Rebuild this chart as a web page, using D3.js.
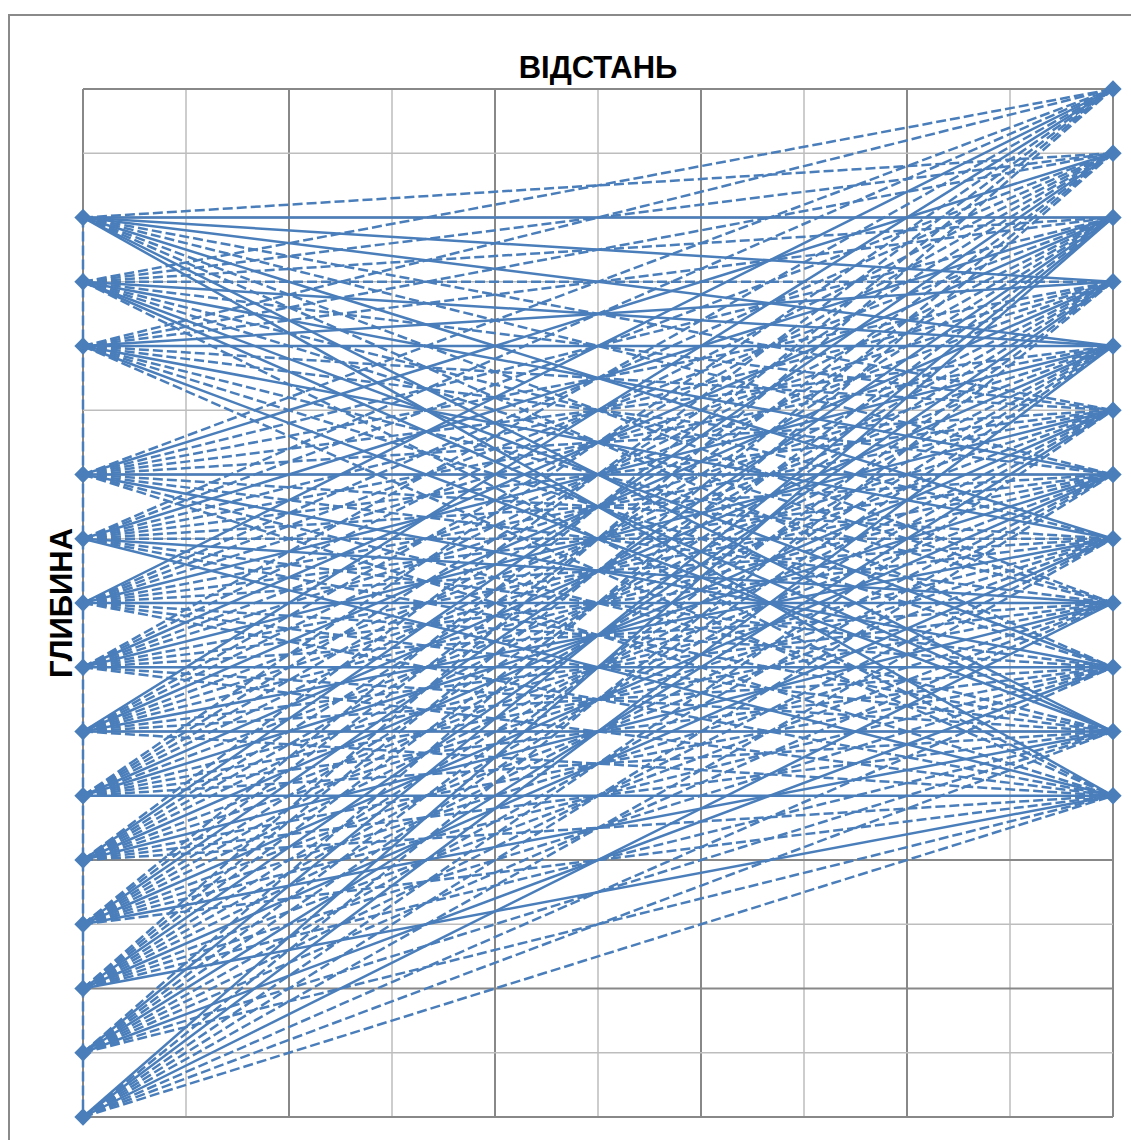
<!DOCTYPE html>
<html>
<head>
<meta charset="utf-8">
<script src="https://cdn.jsdelivr.net/npm/d3@7"></script>
<style>
  body { margin: 0; background: #fff; }
  text { font-family: "Liberation Sans", Arial, sans-serif; }
</style>
</head>
<body>
<div id="chart"></div>
<script>
// depth (grid rows) of sources on the left hole and receivers on the right hole
const sourceDepths = [2, 3, 4, 6, 7, 8, 9, 10, 11, 12, 13, 14, 15, 16];
const receiverDepths = [0, 1, 2, 3, 4, 5, 6, 7, 8, 9, 10, 11];
// one row per source, one char per receiver: S solid ray, D dashed ray, - no ray
const rayStyles = [
  '-DSSSDDSDDSS',
  'DDDDSDSDDSSD',
  'DDDSSDDSDDSD',
  'DSDDDDSDDSDD',
  'DDSDDDDDSDDS',
  'SDDDSDDDSDDD',
  'DDSDDSDDDSDD',
  'SDDSDDDSDDSD',
  'DDDDSDSDDDDS',
  'DSDDDSDDSDDD',
  'DDSDDDSDDDSD',
  'DDDSDDDSDDDS',
  '-DSDDSDDDSDD',
  '--SDSDDDSDDD'
];
const leftHole = 0, rightHole = 10;
const xTitle = 'ВІДСТАНЬ';
const yTitle = 'ГЛИБИНА';

const W = 1131, H = 1140;
const margin = { top: 89, right: 18, bottom: 23, left: 83 };
const color = '#4a7ebb';

const svg = d3.select('#chart').append('svg').attr('width', W).attr('height', H);

svg.append('rect')
  .attr('x', 9).attr('y', 15).attr('width', 1300).attr('height', 1300)
  .attr('fill', 'none').attr('stroke', '#8a8a8a').attr('stroke-width', 2);

const x = d3.scaleLinear().domain([0, 10]).range([margin.left, W - margin.right]);
const y = d3.scaleLinear().domain([0, 16]).range([margin.top, H - margin.bottom]);

// grid
const g = svg.append('g');
g.selectAll('.vgrid').data(d3.range(0, 11)).enter().append('line')
  .attr('x1', d => x(d)).attr('x2', d => x(d))
  .attr('y1', y(0)).attr('y2', y(16))
  .attr('stroke', d => d % 2 === 0 ? '#888' : '#bdbdbd')
  .attr('stroke-width', d => d % 2 === 0 ? 2 : 1.5);
g.selectAll('.hgrid').data(d3.range(0, 17)).enter().append('line')
  .attr('x1', x(0)).attr('x2', x(10))
  .attr('y1', d => y(d)).attr('y2', d => y(d))
  .attr('stroke', d => d % 2 === 0 ? '#888' : '#bdbdbd')
  .attr('stroke-width', d => d % 2 === 0 ? 2 : 1.5);

// rays
const rays = [];
sourceDepths.forEach((s, i) => {
  receiverDepths.forEach((r, j) => {
    const st = rayStyles[i][j];
    if (st !== '-') rays.push({ s, r, solid: st === 'S' });
  });
});

const line = d3.line().x(d => x(d[0])).y(d => y(d[1]));

svg.append('path')
  .attr('d', line([[leftHole, d3.min(sourceDepths)], [leftHole, d3.max(sourceDepths)]]))
  .attr('fill', 'none').attr('stroke', color).attr('stroke-width', 2.5)
  .attr('stroke-dasharray', '10,4');

svg.append('g').selectAll('path').data(rays).enter().append('path')
  .attr('d', d => line([[leftHole, d.s], [rightHole, d.r]]))
  .attr('fill', 'none').attr('stroke', color).attr('stroke-width', 2.5)
  .attr('stroke-dasharray', d => d.solid ? null : '10,4');

// markers
const diamond = d3.symbol().type(d3.symbolSquare).size(150);
const pts = sourceDepths.map(d => [leftHole, d]).concat(receiverDepths.map(d => [rightHole, d]));
svg.append('g').selectAll('path').data(pts).enter().append('path')
  .attr('d', diamond)
  .attr('transform', d => `translate(${x(d[0])},${y(d[1])}) rotate(45)`)
  .attr('fill', color);

// titles
svg.append('text')
  .attr('x', (x(0) + x(10)) / 2).attr('y', 78)
  .attr('text-anchor', 'middle')
  .style('font-size', '31px').style('font-weight', 'bold')
  .text(xTitle);

svg.append('text')
  .attr('transform', `translate(72,${(y(0) + y(16)) / 2}) rotate(-90)`)
  .attr('text-anchor', 'middle')
  .style('font-size', '31px').style('font-weight', 'bold')
  .text(yTitle);
</script>
</body>
</html>
